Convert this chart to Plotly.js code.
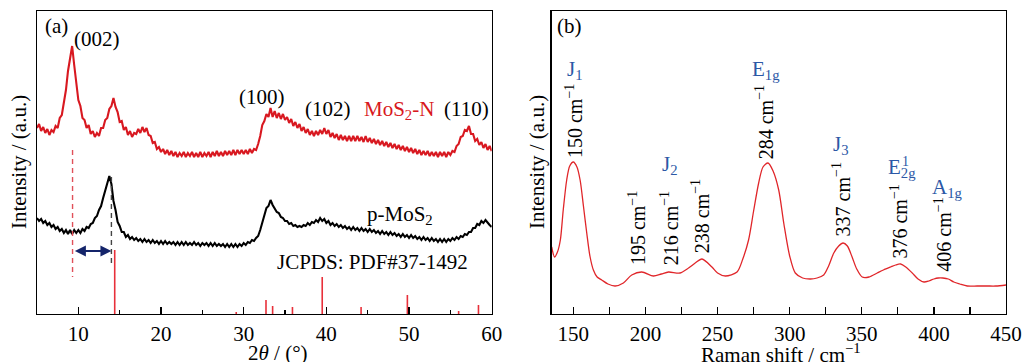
<!DOCTYPE html>
<html>
<head>
<meta charset="utf-8">
<script src="https://cdn.plot.ly/plotly-3.0.1.min.js"></script>
<style>html,body{margin:0;padding:0;background:#fff;}#chart{width:1024px;height:362px;}</style>
</head>
<body>
<div id="chart"></div>
<script>
// ---------- Data (a): XRD ----------
const thetaStart = 5, thetaStep = 0.25;
const mos2N = [
186,190,183,187,181,185,179,184,182,188,186,196,199,212,224,243,256,268,249,232,
214,208,196,194,186,189,180,183,177,181,178,186,186,194,196,205,208,216,207,202,
192,193,184,187,179,183,177,181,180,185,181,187,182,186,179,178,171,172,165,167,
162,165,160,164,159,163,158,162,157,161,158,162,157,161,158,162,157,161,157,162,
157,161,158,162,157,162,158,163,158,162,158,163,159,163,159,164,159,164,160,164,
160,164,160,165,161,165,164,170,178,189,193,200,197,206,197,203,196,201,195,200,
194,197,191,195,188,192,186,190,183,187,181,185,179,183,178,183,179,184,180,186,
180,184,177,181,176,180,174,179,174,178,173,178,173,178,173,178,173,177,172,178,
172,176,171,175,170,174,169,173,168,172,167,171,166,170,165,169,164,168,163,167,
162,166,161,165,160,164,159,163,159,163,158,162,158,162,157,162,158,162,157,162,
159,163,162,168,170,177,178,184,183,188,180,180,173,175,169,172,166,170,164,168,
163];
const pMoS2 = [
96,93,95,91,93,89,91,87,89,85,87,83,85,81,84,80,84,80,84,81,
84,81,85,83,87,86,90,91,96,98,104,108,116,123,131,138,130,113,104,92,
88,82,82,77,79,75,77,74,76,73,75,72,75,72,74,71,74,71,73,70,
73,70,73,70,72,70,72,69,72,69,72,69,72,69,71,69,72,69,71,68,
71,69,71,68,71,68,71,68,70,68,70,67,70,67,70,67,70,67,70,68,
71,69,72,71,74,73,76,78,84,92,100,106,108,114,109,106,102,101,97,96,
93,93,90,91,88,89,87,88,87,89,88,91,89,92,91,94,92,96,93,95,
91,93,89,91,88,90,87,89,86,88,85,87,84,87,84,86,83,86,83,85,
82,85,82,84,81,83,80,83,80,82,79,82,79,81,78,80,77,80,77,79,
76,79,76,78,75,77,74,77,74,76,73,76,73,75,72,75,72,75,72,75,
73,76,74,77,75,78,77,80,79,82,82,86,86,90,89,93,91,94,91,89,
87];
const refPos = [14.4, 29.1, 32.7, 33.5, 35.9, 39.5, 44.2, 49.8, 56.0, 58.4];
const refInt = [64, 2, 14, 8, 7, 37, 7, 19, 3, 9];
const peak002 = {x: 9.3, top: 164, bottom: 37};
const peakBulk = {x: 14.0, top: 137, bottom: 47};
const shiftArrowY = 63;

// ---------- Data (b): Raman ----------
const ramanShift = [135,137,139,141,143,145.4,147.5,150,152.5,154.7,157,159.3,161.5,163.9,166.5,
169.7,174,179,184.7,190.5,197.5,205.5,211,216,224,229.9,234.5,239.2,246.1,250,255.4,263.5,267.5,
271.5,275,278.5,281.5,285,288.5,292.4,296,300,303.9,309,314.4,319,323.6,327,330.6,334,337,340,
343.3,346.5,350.3,355,360.7,365,370,373.5,376.9,380.5,385,389,393.1,396.5,400,403,406.2,410,
413.8,418,423.1,430,437,443,450];
const ramanInt = [67,57,62,74,104,134,148,152,147,134,108,81,58,44,37,
34,30,28,31,39,42,38,40,42,41,46,51,55,47,41,38,42,55,
74,103,131,147,151,143,124,90,58,41,36,35,36,39,48,61,68,71,68,
57,45,37,37,41,44,47,49,50,47,41,35,32,33,35,36,36,35,
32,30,28,28,28,28,29];
const ramanPeaks = [150, 195, 216, 238, 284, 337, 376, 406];

// ---------- Build ----------
const theta = mos2N.map((_, i) => thetaStart + i * thetaStep);
const stickX = [], stickY = [];
refPos.forEach((p, i) => { stickX.push(p, p, null); stickY.push(0, refInt[i], null); });

const FONT = 'Liberation Serif';
const BLUE = '#2c58a6';
const traces = [
  {x: theta, y: mos2N, mode: 'lines', line: {color: '#d81820', width: 2.1}, xaxis: 'x', yaxis: 'y', hoverinfo: 'skip'},
  {x: theta, y: pMoS2, mode: 'lines', line: {color: '#000', width: 2.1}, xaxis: 'x', yaxis: 'y', hoverinfo: 'skip'},
  {x: stickX, y: stickY, mode: 'lines', line: {color: '#e8303a', width: 1.6}, xaxis: 'x', yaxis: 'y', hoverinfo: 'skip'},
  {x: [peak002.x, peak002.x], y: [peak002.top, peak002.bottom], mode: 'lines', line: {color: '#e0505a', width: 1.4, dash: '5px,4px'}, xaxis: 'x', yaxis: 'y'},
  {x: [peakBulk.x, peakBulk.x], y: [peakBulk.top, peakBulk.bottom], mode: 'lines', line: {color: '#444', width: 1.4, dash: '5px,4px'}, xaxis: 'x', yaxis: 'y'},
  {x: ramanShift, y: ramanInt, mode: 'lines', line: {color: '#e0262a', width: 1.3, shape: 'spline', smoothing: 0.8}, xaxis: 'x2', yaxis: 'y2', hoverinfo: 'skip'}
];

function txt(x, y, text, ref, opts) {
  return Object.assign({x: x, y: y, xref: ref[0], yref: ref[1], text: text, showarrow: false,
    xanchor: 'center', yanchor: 'middle', font: {family: FONT, size: 21, color: '#000'}}, opts || {});
}
const A = ['x', 'y'], B = ['x2', 'y2'], P = ['paper', 'paper'];
const rot = {textangle: -90, font: {family: FONT, size: 20, color: '#000'}};
const blue = {font: {family: FONT, size: 21, color: BLUE}};
const sup = '<sup>\u22121</sup>';

const annotations = [
  txt(7.34, 288, '(a)', A),
  txt(12.2, 275, '(002)', A),
  txt(32.2, 217, '(100)', A),
  txt(40.2, 205, '(102)', A),
  txt(48.8, 204, 'MoS<sub>2</sub>-N', A, {font: {family: FONT, size: 21, color: '#d81820'}}),
  txt(56.9, 205, '(110)', A),
  txt(48.9, 99, 'p-MoS<sub>2</sub>', A),
  txt(45.6, 52, 'JCPDS: PDF#37-1492', A),
  {x: peakBulk.x, y: shiftArrowY, ax: peak002.x + 0.1, ay: shiftArrowY, xref: 'x', yref: 'y', axref: 'x', ayref: 'y',
   text: '', showarrow: true, arrowside: 'end+start', arrowhead: 2, arrowsize: 1, arrowwidth: 2.2, arrowcolor: '#14246a', standoff: 0, startstandoff: 0},
  txt(147, 288, '(b)', B),
  txt(150.9, 244, 'J<sub>1</sub>', B, blue),
  txt(150.5, 193, ramanPeaks[0] + ' cm' + sup, B, rot),
  txt(194.2, 86, ramanPeaks[1] + ' cm' + sup, B, rot),
  txt(216.5, 86, ramanPeaks[2] + ' cm' + sup, B, rot),
  txt(217, 149, 'J<sub>2</sub>', B, blue),
  txt(238, 98, ramanPeaks[3] + ' cm' + sup, B, rot),
  txt(283.8, 244, 'E<sub>1g</sub>', B, blue),
  txt(282.4, 192, ramanPeaks[4] + ' cm' + sup, B, rot),
  txt(335.9, 169, 'J<sub>3</sub>', B, blue),
  txt(335.9, 115, ramanPeaks[5] + ' cm' + sup, B, rot),
  txt(378.2, 146, 'E<sub>2g</sub>', B, blue),
  txt(378.2, 146, '1', B, {xshift: 3, yshift: 7, font: {family: FONT, size: 14, color: BLUE}}),
  txt(375.5, 92, ramanPeaks[6] + ' cm' + sup, B, rot),
  txt(409.6, 126, 'A<sub>1g</sub>', B, blue),
  txt(406.1, 79, ramanPeaks[7] + ' cm' + sup, B, rot),
  // axis titles
  txt(278 / 1024, 1 - 353 / 362, '2<i>θ</i> / (°)', P, {font: {family: FONT, size: 21, color: '#000'}}),
  txt(781 / 1024, 1 - 353 / 362, 'Raman shift / cm' + sup, P, {font: {family: FONT, size: 21, color: '#000'}}),
  txt(19 / 1024, 1 - 162 / 362, 'Intensity / (a.u.)', P, {textangle: -90, font: {family: FONT, size: 21, color: '#000'}}),
  txt(537 / 1024, 1 - 162 / 362, 'Intensity / (a.u.)', P, {textangle: -90, font: {family: FONT, size: 21, color: '#000'}})
];

const yDom = [1 - 314 / 362, 1 - 11 / 362];
const xBase = {showline: true, mirror: true, linecolor: '#000', linewidth: 1.3, ticks: 'inside', ticklen: 7, tickwidth: 1.3,
  tickcolor: '#000', showgrid: false, zeroline: false, tickfont: {family: FONT, size: 21, color: '#000'}, fixedrange: true};
const yBase = {showline: true, mirror: true, linecolor: '#000', linewidth: 1.3, ticks: '', showticklabels: false,
  showgrid: false, zeroline: false, range: [0, 303], domain: yDom, fixedrange: true};

const layout = {
  width: 1024, height: 362, margin: {l: 0, r: 0, t: 0, b: 0}, showlegend: false,
  paper_bgcolor: '#fff', plot_bgcolor: '#fff',
  font: {family: FONT, color: '#000'},
  xaxis: Object.assign({}, xBase, {domain: [37 / 1024, 491.7 / 1024], range: [5, 60], anchor: 'y', tick0: 0, dtick: 10,
    minor: {dtick: 5, ticks: 'inside', ticklen: 4, tickwidth: 1.3, tickcolor: '#000', showgrid: false}}),
  yaxis: Object.assign({}, yBase, {anchor: 'x'}),
  xaxis2: Object.assign({}, xBase, {domain: [551.7 / 1024, 1006 / 1024], range: [135, 450], anchor: 'y2', tick0: 0, dtick: 50,
    minor: {dtick: 25, ticks: 'inside', ticklen: 7, tickwidth: 1.3, tickcolor: '#000', showgrid: false}}),
  yaxis2: Object.assign({}, yBase, {anchor: 'x2'}),
  annotations: annotations
};

Plotly.newPlot('chart', traces, layout, {staticPlot: true, displayModeBar: false});
</script>
</body>
</html>
